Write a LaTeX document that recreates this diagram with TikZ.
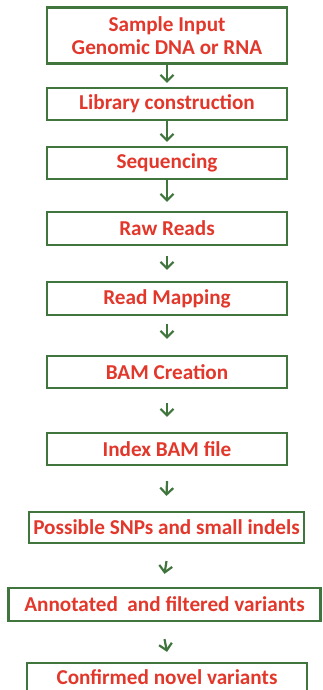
\documentclass[tikz,border=0pt]{standalone}
\usepackage{fontspec}
\setmainfont{Carlito}
\usetikzlibrary{arrows.meta}
\definecolor{boxgreen}{RGB}{64,118,62}
\definecolor{txtred}{RGB}{226,56,44}
\begin{document}
\begin{tikzpicture}[x=1pt,y=-1pt,
  stepbox/.style={draw=boxgreen,line width=2.2pt,fill=white,text=txtred,
    font=\bfseries\fontsize{21.2}{23}\selectfont,align=center,inner sep=0pt,
    minimum height=32pt},
  arr/.style={draw=boxgreen,line width=2.2pt,-{Straight Barb[length=6.5pt,width=13pt,line width=2.2pt]}}]
\clip (0,0) rectangle (322,690);
\fill[white] (0,0) rectangle (322,690);
\node[stepbox,minimum width=240pt,minimum height=56pt] (b1) at (167,35.5) {Sample Input\\Genomic DNA or RNA};
\node[stepbox,minimum width=240pt] (b2) at (167,104) {Library construction};
\node[stepbox,minimum width=240pt] (b3) at (167,163) {Sequencing};
\node[stepbox,minimum width=240pt,minimum height=33pt] (b4) at (167,228.5) {Raw Reads};
\node[stepbox,minimum width=240pt,minimum height=33pt] (b5) at (167,298.5) {Read Mapping};
\node[stepbox,minimum width=240pt] (b6) at (167,372) {BAM Creation};
\node[stepbox,minimum width=240pt] (b7) at (167,449) {Index BAM file};
\node[stepbox,minimum width=275pt,minimum height=31pt] (b8) at (166.5,527.5) {Possible SNPs and small indels};
\node[stepbox,minimum width=312pt,minimum height=33pt] (b9) at (164.5,604.5) {Annotated\ \ and filtered variants};
\node[stepbox,minimum width=280pt,minimum height=29pt] (b10) at (167,677.5) {Confirmed novel variants};
\draw[arr] (b1.south) -- ([yshift=4pt]b2.north);
\draw[arr] (b2.south) -- ([yshift=4pt]b3.north);
\draw[arr] (b3.south) -- ([yshift=9pt]b4.north);
\draw[arr] ([yshift=-10pt]b4.south) -- ([yshift=11pt]b5.north);
\draw[arr] ([yshift=-8pt]b5.south) -- ([yshift=16pt]b6.north);
\draw[arr] ([yshift=-14pt]b6.south) -- ([yshift=15pt]b7.north);
\draw[arr] ([yshift=-15pt]b7.south) -- ([yshift=15pt]b8.north);
\draw[arr] ([yshift=-17pt]b8.south) -- ([yshift=13pt]b9.north);
\draw[arr] ([yshift=-17pt]b9.south) -- ([yshift=10pt]b10.north);
\end{tikzpicture}
\end{document}
